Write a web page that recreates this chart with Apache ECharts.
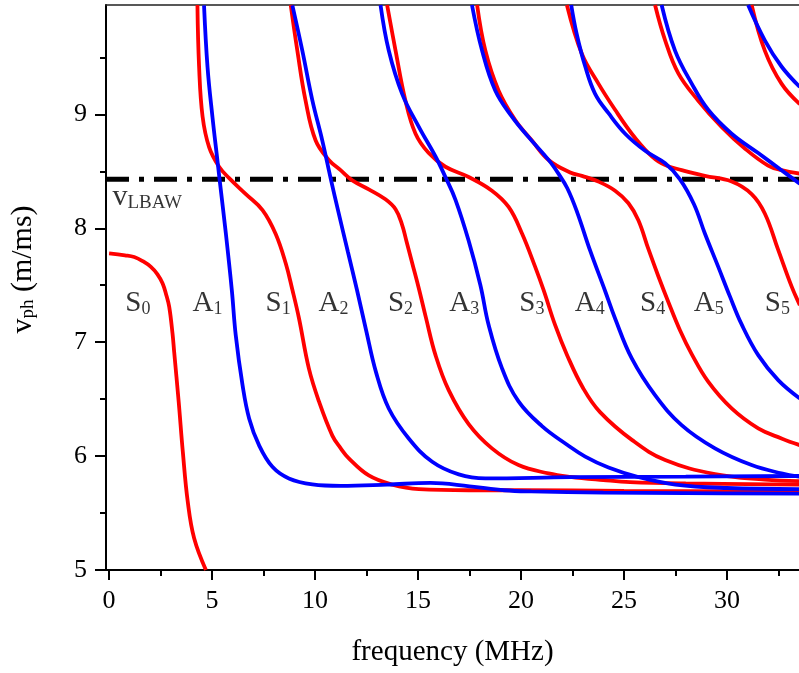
<!DOCTYPE html>
<html>
<head>
<meta charset="utf-8">
<script src="https://cdn.jsdelivr.net/npm/echarts@6/dist/echarts.min.js"></script>
<style>
  html, body { margin: 0; padding: 0; background: #ffffff; }
  #chart { width: 799px; height: 673px; }
</style>
</head>
<body>
<div id="chart"></div>
<script>
// Phase velocity dispersion curves: [frequency (MHz), v_ph (m/ms)]
// Symmetric modes
const S0 = [[0,7.78],[0.77,7.763],[1.22,7.748],[1.64,7.711],[2.03,7.661],[2.35,7.596],[2.6,7.515],[2.78,7.412],[2.92,7.31],[3.08,7.076],[3.16,6.915],[3.38,6.476],[3.58,6.038],[3.82,5.599],[4.13,5.278],[4.7,5.0]];
const S1 = [[4.29,9.96],[4.37,9.42],[4.54,8.98],[4.86,8.71],[5.34,8.54],[5.83,8.44],[6.64,8.3],[7.45,8.16],[8.09,7.95],[8.58,7.69],[8.9,7.46],[9.22,7.21],[9.7,6.77],[10.19,6.48],[10.84,6.18],[11.24,6.07],[11.64,5.98],[12.61,5.83],[13.75,5.75],[15.04,5.71],[17.46,5.7],[20,5.7],[25,5.695],[33.5,5.69]];
const S2 = [[8.82,9.96],[9.14,9.56],[9.54,9.12],[10.03,8.77],[10.67,8.6],[11.24,8.51],[11.81,8.42],[12.61,8.342],[13.42,8.254],[13.91,8.167],[14.22,8.035],[14.44,7.886],[14.72,7.693],[15.05,7.465],[15.39,7.211],[15.85,6.886],[16.49,6.579],[17.46,6.281],[18.59,6.068],[19.88,5.921],[21.34,5.848],[22.39,5.818],[24,5.79],[25.3,5.772],[28,5.76],[33.5,5.75]];
const S3 = [[13.5,9.96],[13.91,9.56],[14.39,9.12],[14.88,8.83],[15.52,8.66],[16.33,8.54],[17.46,8.45],[18.59,8.33],[19.4,8.187],[20.05,7.954],[20.69,7.661],[21.1,7.456],[21.66,7.149],[22.24,6.886],[23.02,6.596],[23.84,6.386],[25.4,6.14],[27,5.965],[29.42,5.842],[31.84,5.794],[33.5,5.78]];
const S4 = [[17.87,9.96],[18.27,9.56],[18.91,9.21],[19.72,8.95],[20.53,8.77],[21.34,8.6],[22.39,8.49],[22.96,8.46],[23.76,8.41],[24.57,8.33],[25.22,8.22],[25.7,8.07],[26.19,7.816],[26.67,7.579],[27.16,7.351],[27.72,7.105],[28.29,6.895],[29.09,6.653],[30.23,6.418],[31.52,6.243],[32.65,6.155],[33.54,6.096]];
const S5 = [[22.23,9.96],[22.96,9.53],[23.76,9.27],[24.57,9.04],[25.38,8.83],[26.19,8.66],[26.83,8.57],[27.8,8.51],[28.93,8.46],[30.23,8.41],[31.2,8.3],[31.84,8.13],[32.49,7.81],[33.14,7.49],[33.54,7.325]];
const S6 = [[26.51,9.96],[27,9.65],[27.64,9.36],[28.61,9.12],[29.74,8.89],[30.87,8.7],[32,8.55],[32.65,8.51],[33.54,8.48]];
const S7 = [[31.2,9.96],[31.84,9.56],[32.65,9.27],[33.54,9.09]];
// Antisymmetric modes
const A1 = [[4.61,9.956],[4.78,9.415],[5.02,8.976],[5.26,8.596],[5.37,8.421],[5.67,7.954],[5.96,7.456],[6.15,7.061],[6.48,6.623],[6.8,6.331],[7.28,6.096],[7.93,5.906],[8.73,5.804],[9.87,5.752],[11.24,5.739],[13.5,5.75],[15.6,5.765],[17.5,5.735],[19.2,5.7],[20.5,5.69],[24,5.68],[28,5.675],[33.5,5.67]];
const A2 = [[8.9,9.956],[9.38,9.561],[9.87,9.123],[10.35,8.772],[10.78,8.421],[11.14,8.14],[11.6,7.789],[12.04,7.456],[12.48,7.105],[12.96,6.737],[13.58,6.418],[14.55,6.155],[15.69,5.95],[16.98,5.839],[18.27,5.804],[22.4,5.815],[28,5.82],[33.5,5.825]];
const A3 = [[13.18,9.96],[13.58,9.56],[14.23,9.18],[15.04,8.89],[15.85,8.63],[16.33,8.45],[16.82,8.25],[17.46,7.89],[18.03,7.5],[18.43,7.15],[19.08,6.77],[19.88,6.48],[21.02,6.263],[22.24,6.1],[23.12,5.996],[24.25,5.9],[25.7,5.816],[27.5,5.75],[30,5.72],[33.5,5.71]];
const A4 = [[17.62,9.96],[18.11,9.56],[18.75,9.21],[19.56,8.98],[20.37,8.8],[21.34,8.6],[21.81,8.482],[22.25,8.351],[22.73,8.14],[23.36,7.803],[24.09,7.447],[24.57,7.208],[25.38,6.857],[26.51,6.535],[27.8,6.272],[29.42,6.068],[31.2,5.921],[32.65,5.848],[33.54,5.818]];
const A5 = [[22.44,9.96],[22.7,9.71],[23.12,9.42],[23.6,9.18],[24.25,9.01],[25.06,8.83],[26.03,8.68],[27,8.57],[27.72,8.43],[28.4,8.211],[28.93,7.954],[29.58,7.661],[30.14,7.404],[30.71,7.158],[31.52,6.886],[32.49,6.667],[33.54,6.506]];
const A6 = [[26.83,9.96],[27.48,9.56],[28.29,9.27],[29.09,9.04],[30.23,8.83],[31.52,8.66],[32.65,8.51],[33.54,8.39]];
const A7 = [[31.03,9.96],[31.84,9.65],[32.65,9.42],[33.54,9.24]];

// Longitudinal bulk acoustic wave velocity (m/ms)
const vLBAW = 8.43;

// Axis ticks
const xMajorTicks = [0, 5, 10, 15, 20, 25, 30];
const xMinorTicks = [2.5, 7.5, 12.5, 17.5, 22.5, 27.5, 32.5];
const yMajorTicks = [5, 6, 7, 8, 9];
const yMinorTicks = [5.5, 6.5, 7.5, 8.5, 9.5];

// Mode labels
const modeLetters = ['S', 'A', 'S', 'A', 'S', 'A', 'S', 'A', 'S', 'A', 'S'];
const modeOrders  = ['0', '1', '1', '2', '2', '3', '3', '4', '4', '5', '5'];
const modeLabelFreq = [1.4, 4.78, 8.21, 10.9, 14.15, 17.25, 20.53, 23.34, 26.39, 29.12, 32.45];
const modeLabelVel = 7.34;

const symmetricModes = [S0, S1, S2, S3, S4, S5, S6, S7];
const antisymmetricModes = [A1, A2, A3, A4, A5, A6, A7];

const X_MIN = -0.15, X_MAX = 33.5, Y_MIN = 5, Y_MAX = 9.96;
const SERIF = "'Liberation Serif', 'Times New Roman', serif";

const chart = echarts.init(document.getElementById('chart'), null, { renderer: 'canvas' });

function curve(data, color) {
  return {
    type: 'line',
    data: data,
    showSymbol: false,
    symbol: 'none',
    smooth: 0.4,
    clip: true,
    silent: true,
    lineStyle: { color: color, width: 3.8 },
    z: 3
  };
}

const series = [];
series.push({
  type: 'line',
  data: [[X_MIN, vLBAW], [X_MAX, vLBAW]],
  symbol: 'none',
  silent: true,
  lineStyle: { color: '#000', width: 5, type: [23, 10, 5, 10], cap: 'butt' },
  z: 2
});
symmetricModes.forEach(d => series.push(curve(d, '#ff0000')));
antisymmetricModes.forEach(d => series.push(curve(d, '#0000ff')));

// Mode name annotations
series.push({
  type: 'scatter',
  symbolSize: 0,
  silent: true,
  z: 5,
  data: modeLabelFreq.map((f, i) => [f, modeLabelVel, modeLetters[i], modeOrders[i]]),
  label: {
    show: true,
    position: 'inside',
    formatter: p => '{m|' + p.data[2] + '}{s|' + p.data[3] + '}',
    rich: {
      m: { fontFamily: SERIF, fontSize: 29, color: '#000', lineHeight: 30 },
      s: { fontFamily: SERIF, fontSize: 18, color: '#000', lineHeight: 12, verticalAlign: 'bottom' }
    }
  }
});
// v_LBAW annotation
series.push({
  type: 'scatter',
  symbolSize: 0,
  silent: true,
  z: 5,
  data: [[1.85, 8.27]],
  label: {
    show: true,
    position: 'inside',
    formatter: '{m|v}{s|LBAW}',
    rich: {
      m: { fontFamily: SERIF, fontSize: 30, color: '#000', lineHeight: 30 },
      s: { fontFamily: SERIF, fontSize: 19, color: '#000', lineHeight: 12, verticalAlign: 'bottom' }
    }
  }
});

chart.setOption({
  animation: false,
  backgroundColor: '#ffffff',
  grid: { left: 105, right: 0, top: 5, bottom: 103, containLabel: false },
  xAxis: [
    {
      type: 'value', min: X_MIN, max: X_MAX, position: 'bottom',
      name: 'frequency (MHz)', nameLocation: 'middle', nameGap: 68,
      nameTextStyle: { fontFamily: SERIF, fontSize: 29, color: '#000' },
      axisLine: { show: true, onZero: false, lineStyle: { color: '#000', width: 2 } },
      axisTick: { show: true, customValues: xMajorTicks, length: 10, lineStyle: { color: '#000', width: 2 } },
      axisLabel: { show: true, customValues: xMajorTicks, margin: 18, fontFamily: SERIF, fontSize: 26, color: '#000' },
      splitLine: { show: false }
    },
    {
      type: 'value', min: X_MIN, max: X_MAX, position: 'bottom',
      axisLine: { show: false, onZero: false },
      axisTick: { show: true, customValues: xMinorTicks, length: 6, lineStyle: { color: '#000', width: 2 } },
      axisLabel: { show: false },
      splitLine: { show: false }
    },
    {
      type: 'value', min: X_MIN, max: X_MAX, position: 'top',
      axisLine: { show: true, onZero: false, lineStyle: { color: '#222', width: 1.5 } },
      axisTick: { show: false },
      axisLabel: { show: false },
      splitLine: { show: false }
    }
  ],
  yAxis: [
    {
      type: 'value', min: Y_MIN, max: Y_MAX, position: 'left',
      name: '{v|v}{p|ph}{u| (m/ms)}', nameLocation: 'middle', nameGap: 68, nameRotate: 90,
      nameTextStyle: {
        color: '#000',
        padding: [0, 0, 0, 36],
        rich: {
          v: { fontFamily: SERIF, fontSize: 30, color: '#000', lineHeight: 30 },
          p: { fontFamily: SERIF, fontSize: 19, color: '#000', lineHeight: 12, verticalAlign: 'bottom' },
          u: { fontFamily: SERIF, fontSize: 30, color: '#000', lineHeight: 30 }
        }
      },
      axisLine: { show: true, onZero: false, lineStyle: { color: '#000', width: 2 } },
      axisTick: { show: true, customValues: yMajorTicks, length: 11, lineStyle: { color: '#000', width: 2 } },
      axisLabel: { show: true, customValues: yMajorTicks, margin: 19, fontFamily: SERIF, fontSize: 26, color: '#000' },
      splitLine: { show: false }
    },
    {
      type: 'value', min: Y_MIN, max: Y_MAX, position: 'left',
      axisLine: { show: false, onZero: false },
      axisTick: { show: true, customValues: yMinorTicks, length: 6, lineStyle: { color: '#000', width: 2 } },
      axisLabel: { show: false },
      splitLine: { show: false }
    }
  ],
  series: series
});
</script>
</body>
</html>
